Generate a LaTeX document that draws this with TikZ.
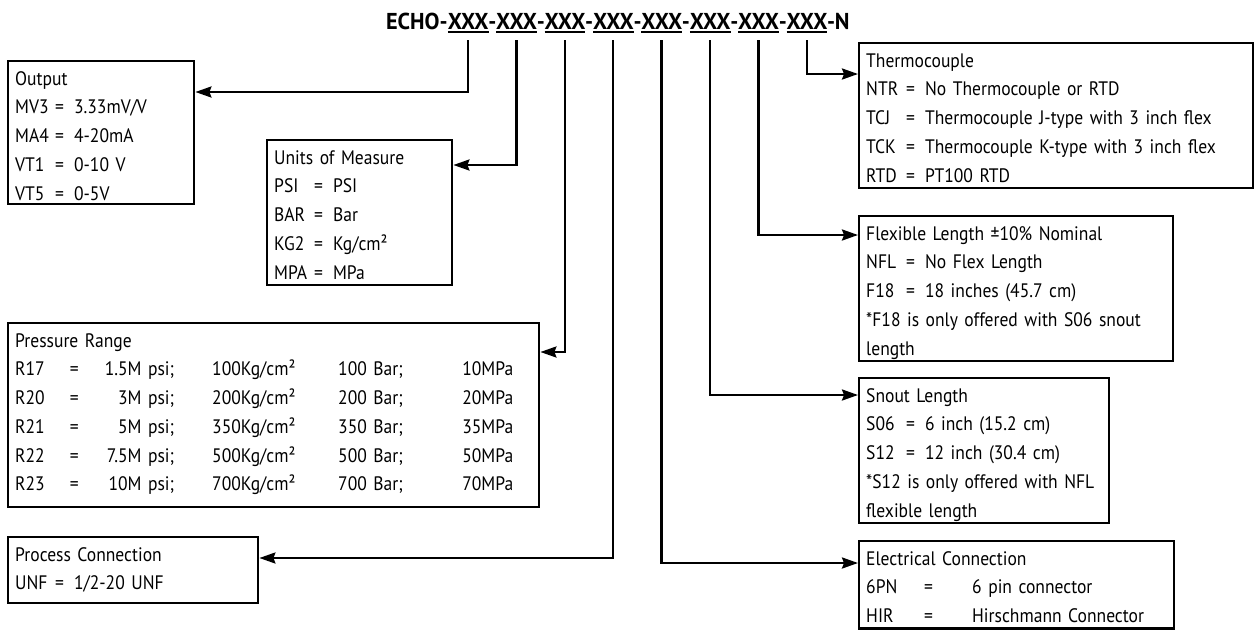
\documentclass[tikz,border=0pt]{standalone}
\usepackage{fontspec}
\setmainfont{PT Sans}[FakeStretch=0.9]
\newfontfamily\codefont{PT Sans}[FakeStretch=0.97]
\usetikzlibrary{arrows.meta}
\newcommand{\tpad}{\rule{0pt}{24pt}}
\newcommand{\bpad}[1][6pt]{\rule[-#1]{0pt}{#1}}
\newcommand{\opt}[3][40pt]{\makebox[#1][l]{#2}=\hspace{10pt}#3}
\newcommand{\uln}[1]{\vtop{\hbox{#1}\kern2pt\hrule height 1.8pt}}
\newcommand{\xgrp}{\makebox[41pt]{\uln{XXX}}\makebox[7.4pt]{-}}
\newcommand{\prow}[5]{\makebox[54pt][l]{#1}\makebox[10pt][c]{=}\makebox[95pt][r]{#2}\hspace{38pt}\makebox[126pt][l]{#3Kg/cm²}\makebox[175pt][l]{#4\hfill #5}}
\newcommand{\erow}[2]{\makebox[58pt][l]{#1}\makebox[48pt][l]{=}#2}

\begin{document}
\begin{tikzpicture}[
  x=1pt, y=-1pt,
  >={Stealth[length=16pt,width=11pt,inset=2pt]},
  spec/.style={draw, line width=2.4pt, anchor=north west, align=left,
    inner xsep=7pt, inner ysep=0pt, text width=#1,
    font=\fontsize{19.5}{28.7}\selectfont},
  lead/.style={->, line width=2.4pt}
]
  \useasboundingbox (0,0) rectangle (1257,629);

  % Tops of the leads, one under each field of the code
  \coordinate (c1) at (468.0,40);
  \coordinate (c2) at (516.4,40);
  \coordinate (c3) at (564.8,40);
  \coordinate (c4) at (613.2,40);
  \coordinate (c5) at (661.6,40);
  \coordinate (c6) at (710.0,40);
  \coordinate (c7) at (758.4,40);
  \coordinate (c8) at (806.8,40);

  % Ordering code
  \node[anchor=base west, inner sep=0pt, font=\fontsize{23}{27}\codefont\bfseries]
    (code) at (447.5,29) {\llap{ECHO-}\xgrp\xgrp\xgrp\xgrp\xgrp\xgrp\xgrp\xgrp N};

  % Left column
  \node[spec=172pt] (outbox) at (7,60) {\tpad Output\\
    \opt{MV3}{3.33mV/V}\\
    \opt{MA4}{4-20mA}\\
    \opt{VT1}{0-10 V}\\
    \opt{VT5}{0-5V}\bpad[4pt]};
  \node[spec=171pt] (unitbox) at (266,139) {\tpad Units of Measure\\
    \opt{PSI}{PSI}\\
    \opt{BAR}{Bar}\\
    \opt{KG2}{Kg/cm²}\\
    \opt{MPA}{MPa}\bpad};
  \node[spec=517pt] (rangebox) at (7,322) {\tpad Pressure Range\\
    \prow{R17}{1.5M psi;}{100}{100 Bar;}{10MPa}\\
    \prow{R20}{3M psi;}{200}{200 Bar;}{20MPa}\\
    \prow{R21}{5M psi;}{350}{350 Bar;}{35MPa}\\
    \prow{R22}{7.5M psi;}{500}{500 Bar;}{50MPa}\\
    \prow{R23}{10M psi;}{700}{700 Bar;}{70MPa}\bpad[16pt]};
  \node[spec=236pt] (procbox) at (7,536) {\tpad Process Connection\\
    \opt{UNF}{1/2-20 UNF}\bpad[13pt]};

  % Right column
  \node[spec=380pt] (tcbox) at (858,42) {\tpad Thermocouple\\
    \opt{NTR}{No Thermocouple or RTD}\\
    \opt{TCJ}{Thermocouple J-type with 3 inch flex}\\
    \opt{TCK}{Thermocouple K-type with 3 inch flex}\\
    \opt{RTD}{PT100 RTD}\bpad};
  \node[spec=300pt] (flexbox) at (858,215) {\tpad Flexible Length ±10\% Nominal\\
    \opt{NFL}{No Flex Length}\\
    \opt{F18}{18 inches (45.7 cm)}\\
    {*}F18 is only offered with S06 snout\\
    length\bpad};
  \node[spec=236pt] (snoutbox) at (858,377) {\tpad Snout Length\\
    \opt{S06}{6 inch (15.2 cm)}\\
    \opt{S12}{12 inch (30.4 cm)}\\
    {*}S12 is only offered with NFL\\
    flexible length\bpad};
  \node[spec=301pt] (elecbox) at (858,540) {\tpad Electrical Connection\\
    \erow{6PN}{6 pin connector}\\
    \erow{HIR}{Hirschmann Connector}\bpad};

  % Leads from the code fields to their boxes
  \draw[lead] (c1) |- ([yshift=-32pt]outbox.north east);
  \draw[lead] (c2) |- ([yshift=-26pt]unitbox.north east);
  \draw[lead] (c3) |- ([yshift=-30pt]rangebox.north east);
  \draw[lead] (c4) |- ([yshift=-22pt]procbox.north east);
  \draw[lead] (c5) |- ([yshift=-23pt]elecbox.north west);
  \draw[lead] (c6) |- ([yshift=-18pt]snoutbox.north west);
  \draw[lead] (c7) |- ([yshift=-20pt]flexbox.north west);
  \draw[lead] (c8) |- ([yshift=-32pt]tcbox.north west);
\end{tikzpicture}
\end{document}
